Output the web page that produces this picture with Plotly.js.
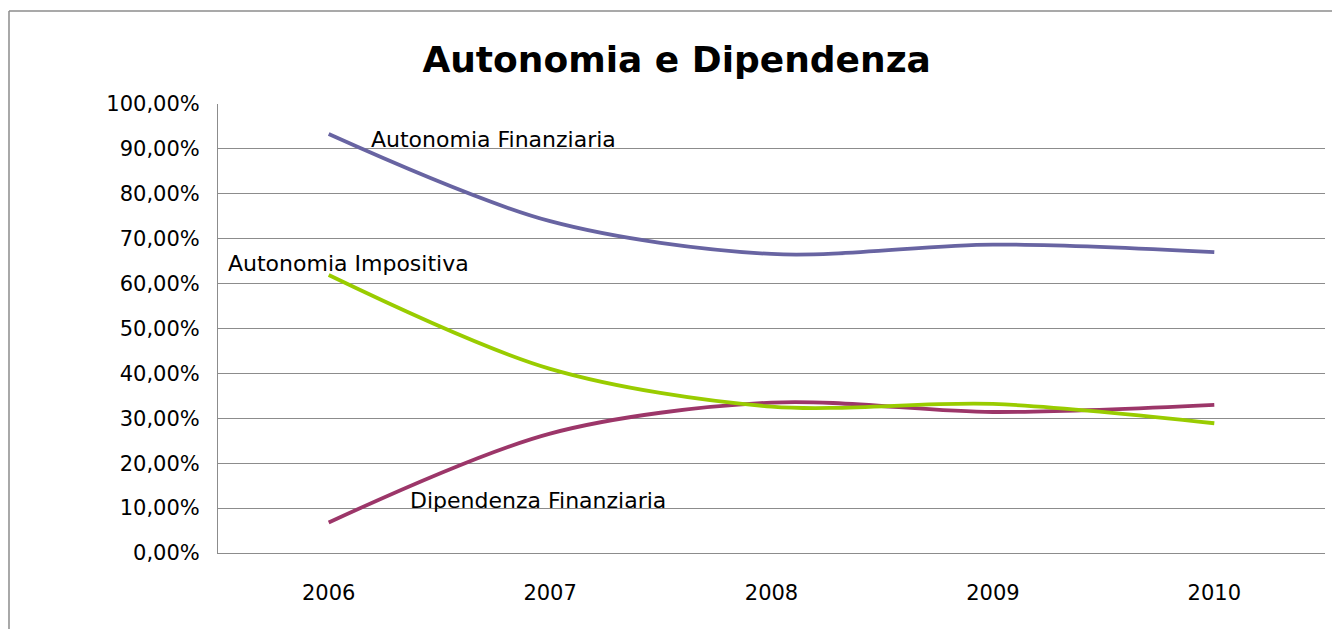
<!DOCTYPE html>
<html>
<head>
<meta charset="utf-8">
<script src="https://cdn.plot.ly/plotly-3.0.1.min.js"></script>
<style>
  html, body { margin: 0; padding: 0; background: #ffffff; overflow: hidden; }
  #chart { width: 1332px; height: 629px; }
</style>
</head>
<body>
<div id="chart"></div>
<script>
const years = ["2006", "2007", "2008", "2009", "2010"];
const autonomiaFinanziaria = [93.3, 73.9, 66.6, 68.7, 67.0];
const autonomiaImpositiva = [61.9, 41.0, 32.6, 33.2, 28.9];
const dipendenzaFinanziaria = [6.8, 26.6, 33.5, 31.4, 33.0];
const yTickVals = [0, 10, 20, 30, 40, 50, 60, 70, 80, 90, 100];
const yTickText = ["0,00%", "10,00%", "20,00%", "30,00%", "40,00%", "50,00%", "60,00%", "70,00%", "80,00%", "90,00%", "100,00%"];
const seriesNames = ["Autonomia Finanziaria", "Autonomia Impositiva", "Dipendenza Finanziaria"];

const lineStyle = (color) => ({ color: color, width: 3.8, shape: "spline", smoothing: 0.9 });

const traces = [
  { x: years, y: autonomiaFinanziaria, name: seriesNames[0], type: "scatter", mode: "lines", line: lineStyle("#6864a2") },
  { x: years, y: dipendenzaFinanziaria, name: seriesNames[2], type: "scatter", mode: "lines", line: lineStyle("#9c3669") },
  { x: years, y: autonomiaImpositiva, name: seriesNames[1], type: "scatter", mode: "lines", line: lineStyle("#99cc00") }
];

const labelFont = { family: "DejaVu Sans", size: 22, color: "#000000" };
const borderLine = { color: "#8c8c8c", width: 1.5 };

const layout = {
  width: 1332,
  height: 629,
  margin: { l: 218, r: 7, t: 104, b: 76 },
  paper_bgcolor: "#ffffff",
  plot_bgcolor: "#ffffff",
  showlegend: false,
  hovermode: false,
  title: {
    text: "Autonomia e Dipendenza",
    font: { family: "DejaVu Sans", size: 36, color: "#000000", weight: "bold" },
    x: 0.508, xref: "container", xanchor: "center",
    y: 0.905, yref: "container", yanchor: "middle"
  },
  xaxis: {
    type: "category",
    range: [-0.5, 4.5],
    showgrid: false,
    showline: true,
    linecolor: "#8c8c8c",
    linewidth: 1,
    ticks: "",
    ticklabelstandoff: 21,
    tickfont: { family: "DejaVu Sans", size: 21, color: "#000000" },
    zeroline: false,
    fixedrange: true
  },
  yaxis: {
    range: [0, 100],
    tickvals: yTickVals,
    ticktext: yTickText,
    showgrid: true,
    gridcolor: "#8c8c8c",
    gridwidth: 1,
    showline: true,
    linecolor: "#8c8c8c",
    linewidth: 1,
    zeroline: false,
    ticks: "",
    ticklabelstandoff: 13,
    tickfont: { family: "DejaVu Sans", size: 21, color: "#000000" },
    fixedrange: true
  },
  annotations: [
    { text: seriesNames[0], x: 0.18, y: 92.2, xref: "x", yref: "y", xanchor: "left", yanchor: "middle", showarrow: false, font: labelFont },
    { text: seriesNames[1], x: -0.465, y: 64.4, xref: "x", yref: "y", xanchor: "left", yanchor: "middle", showarrow: false, font: labelFont },
    { text: seriesNames[2], x: 0.36, y: 11.8, xref: "x", yref: "y", xanchor: "left", yanchor: "middle", showarrow: false, font: labelFont }
  ],
  shapes: [
    { type: "line", xref: "paper", yref: "paper", x0: -0.1888, x1: 1.05, y0: 1.2071, y1: 1.2071, line: borderLine, layer: "above" },
    { type: "line", xref: "paper", yref: "paper", x0: -0.1888, x1: -0.1888, y0: -0.2, y1: 1.2071, line: borderLine, layer: "above" }
  ]
};

Plotly.newPlot("chart", traces, layout, { displayModeBar: false, staticPlot: true });
</script>
</body>
</html>
